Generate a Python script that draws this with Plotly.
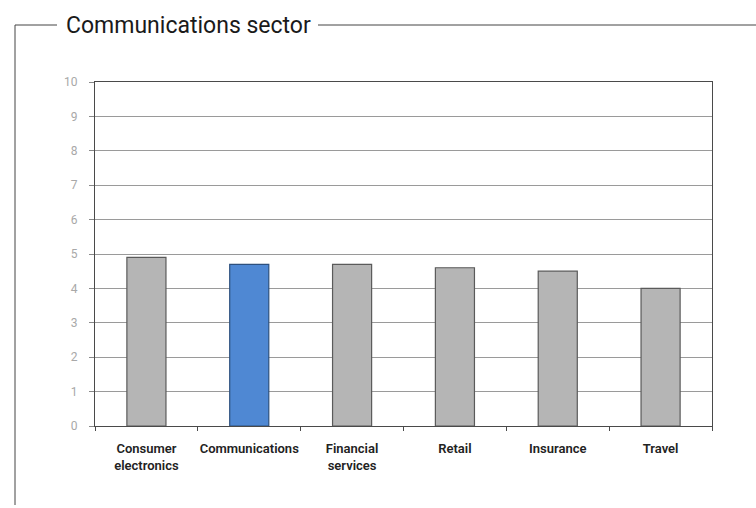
import plotly.graph_objects as go

# Sector scores
categories = ["Consumer<br>electronics", "Communications", "Financial<br>services",
              "Retail", "Insurance", "Travel"]
scores = [4.9, 4.7, 4.7, 4.6, 4.5, 4.0]
highlight = "Communications"
y_ticks = list(range(0, 11))

W, H = 756, 508
L, R, T, B = 95, 44, 82, 82
pw, ph = W - L - R, H - T - B


def px_x(x):
    return (x - L) / pw


def px_y(y):
    return (H - B - y) / ph


fill = ["#4f88d3" if c == highlight else "#b5b5b5" for c in categories]
edge = ["#2d507e" if c == highlight else "#5a5a5a" for c in categories]

fig = go.Figure(go.Bar(
    x=categories, y=scores, width=0.38,
    marker=dict(color=fill, line=dict(color=edge, width=1.2)),
    hoverinfo="x+y",
))

font_main = "Roboto, sans-serif"

fig.update_layout(
    width=W, height=H,
    margin=dict(l=L, r=R, t=T, b=B),
    paper_bgcolor="white", plot_bgcolor="white",
    showlegend=False,
    font=dict(family=font_main),
    xaxis=dict(
        type="category", showgrid=False, showline=True, linecolor="#4a4a4a",
        linewidth=1, mirror=True, ticks="outside", tickson="boundaries",
        ticklen=4, tickcolor="#4a4a4a", tickangle=0, ticklabelstandoff=10,
        tickfont=dict(size=13, color="#222", family=font_main, weight=600),
    ),
    yaxis=dict(
        range=[0, 10], tickvals=y_ticks, showgrid=True, gridcolor="#9a9a9a",
        gridwidth=1, showline=True, linecolor="#4a4a4a", linewidth=1,
        mirror=True, ticks="outside", ticklen=5, tickcolor="#888",
        ticklabelstandoff=9,
        tickfont=dict(size=12, color="#a8a8a8", family=font_main),
        zeroline=False,
    ),
    bargap=0.62,
)

# Framing lines around the panel
line_style = dict(color="#444", width=1)
frame = [
    (15, 25, 57, 25),
    (318, 25, 756, 25),
    (15, 25, 15, 505),
]
for x0, y0, x1, y1 in frame:
    fig.add_shape(type="line", xref="paper", yref="paper",
                  x0=px_x(x0), y0=px_y(y0), x1=px_x(x1), y1=px_y(y1),
                  line=line_style)

fig.add_annotation(
    text="Communications sector", xref="paper", yref="paper",
    x=px_x(64), y=px_y(26), xanchor="left", yanchor="middle",
    showarrow=False, font=dict(size=23, color="#1a1a1a", family=font_main),
)

fig.write_html("out.html")
